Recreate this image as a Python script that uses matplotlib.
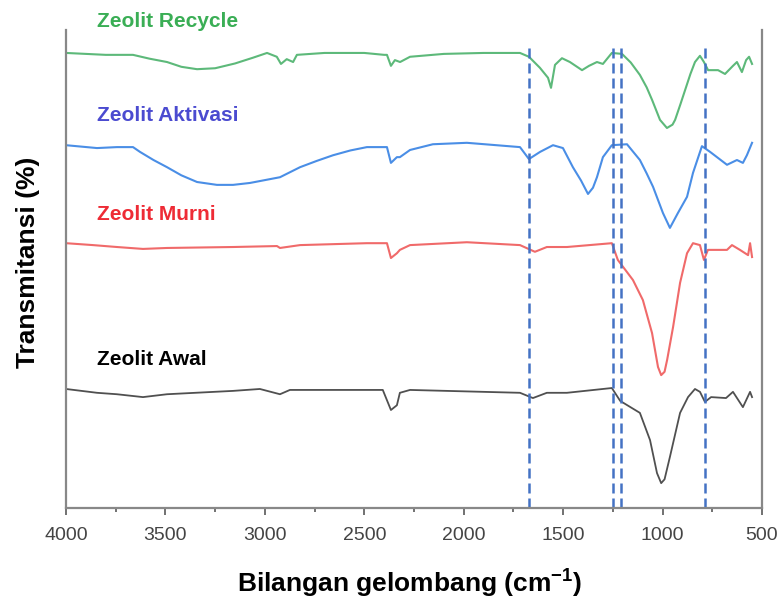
import matplotlib.pyplot as plt
from matplotlib.ticker import MultipleLocator

plt.rcParams['font.family'] = ['Liberation Sans', 'DejaVu Sans']
plt.rcParams['mathtext.fontset'] = 'custom'
plt.rcParams['mathtext.rm'] = 'Liberation Sans:bold'
plt.rcParams['mathtext.bf'] = 'Liberation Sans:bold'

# Spectra: wavenumber (cm-1) and transmittance (arbitrary, stacked)
w_recycle = [4000, 3900, 3800, 3663, 3580, 3492, 3420, 3341, 3250, 3150, 3060, 2989, 2940, 2919, 2890,
             2858, 2839, 2700, 2500, 2400, 2386, 2366, 2346, 2320, 2270, 2100, 1900, 1717, 1672, 1617,
             1576, 1561, 1541, 1506, 1466, 1405, 1370, 1330, 1300, 1255, 1204, 1160, 1114, 1080, 1053,
             1013, 978, 950, 937, 910, 887, 860, 837, 812, 792, 771, 721, 686, 646, 626, 601, 580, 565, 550]
t_recycle = [95.2, 95.0, 94.8, 94.8, 94.0, 93.3, 92.3, 91.8, 92.0, 93.0, 94.2, 95.2, 94.4, 92.9, 93.9,
             93.3, 94.8, 95.2, 95.2, 94.8, 94.8, 92.5, 93.7, 93.3, 94.4, 95.0, 95.2, 95.2, 94.4, 92.1,
             90.0, 87.9, 92.7, 94.1, 93.3, 91.6, 92.5, 93.3, 92.9, 95.2, 95.0, 93.2, 90.6, 88.0, 85.4,
             81.2, 79.5, 80.2, 81.2, 84.5, 87.4, 90.8, 93.3, 94.6, 93.3, 91.6, 91.6, 90.8, 92.5, 93.3, 91.2, 93.7, 94.4, 92.9]

w_aktivasi = [4000, 3844, 3744, 3663, 3628, 3560, 3492, 3420, 3341, 3241, 3160, 3075, 2924, 2823, 2740,
              2657, 2570, 2487, 2386, 2366, 2336, 2321, 2270, 2155, 1984, 1717, 1672, 1616, 1551, 1501,
              1451, 1410, 1375, 1350, 1330, 1300, 1255, 1179, 1114, 1080, 1048, 998, 963, 923, 877,
              847, 802, 761, 676, 626, 596, 576, 550]
t_aktivasi = [75.9, 75.3, 75.5, 75.5, 74.5, 72.8, 71.3, 69.6, 68.2, 67.6, 67.6, 68.0, 69.2, 71.3, 72.6,
              73.8, 74.8, 75.5, 75.5, 72.2, 73.4, 73.4, 74.9, 76.1, 76.4, 75.5, 73.0, 74.5, 75.9, 75.3,
              71.3, 68.5, 65.7, 67.0, 69.2, 73.4, 75.9, 76.1, 72.8, 70.0, 67.2, 61.7, 58.6, 61.7, 65.1,
              70.1, 75.7, 74.5, 71.8, 72.8, 72.2, 73.8, 76.4]

w_murni = [4000, 3864, 3744, 3613, 3492, 3160, 2939, 2924, 2823, 2487, 2386, 2366, 2336, 2321, 2270,
           1984, 1717, 1642, 1582, 1481, 1255, 1225, 1149, 1099, 1053, 1023, 1007, 990, 977, 947, 912,
           877, 847, 812, 792, 772, 676, 651, 611, 570, 560, 550]
t_murni = [55.4, 55.0, 54.6, 54.2, 54.4, 54.6, 54.8, 54.4, 55.0, 55.4, 55.4, 52.3, 53.3, 54.0, 55.0,
           55.6, 55.0, 53.6, 54.6, 54.6, 55.4, 51.9, 47.7, 43.5, 36.6, 29.5, 27.8, 28.5, 31.0, 37.9, 47.1,
           53.3, 55.4, 55.0, 51.9, 54.0, 54.0, 55.0, 54.0, 52.9, 55.4, 52.5]

w_awal = [4000, 3844, 3744, 3613, 3492, 3160, 3025, 2924, 2874, 2407, 2366, 2336, 2321, 2270, 1717,
          1652, 1582, 1481, 1255, 1213, 1114, 1063, 1028, 1007, 990, 963, 912, 872, 837, 812, 787,
          756, 681, 646, 596, 560, 550]
t_awal = [24.9, 24.1, 23.8, 23.2, 23.8, 24.5, 24.9, 23.8, 24.7, 24.7, 20.5, 21.5, 24.1, 24.7, 24.1,
          23.0, 24.1, 24.1, 25.1, 22.4, 19.9, 14.2, 7.3, 5.2, 6.0, 10.7, 19.9, 23.2, 24.9, 24.3, 22.2,
          23.2, 23.0, 24.3, 21.1, 24.3, 23.2]

peaks = [1672, 1251, 1211, 788]

fig = plt.figure(figsize=(7.79, 5.99), dpi=100)
ax = fig.add_axes([66/779, 1-508/599, 696/779, 478/599])

ax.plot(w_recycle, t_recycle, color='#5db97a', lw=1.5)
ax.plot(w_aktivasi, t_aktivasi, color='#4a8ee6', lw=1.5)
ax.plot(w_murni, t_murni, color='#f06a6a', lw=1.5)
ax.plot(w_awal, t_awal, color='#505050', lw=1.3)

for p in peaks:
    ax.vlines(p, 0, 96.2, colors='#4472c4', lw=1.8, linestyles=(0, (4, 2)))

# sample labels
ax.text(3844, 101.7, 'Zeolit Recycle', color='#3aae55', fontsize=15, fontweight='bold', va='center', clip_on=False)
ax.text(3844, 82.2, 'Zeolit Aktivasi', color='#4b4bd0', fontsize=15, fontweight='bold', va='center')
ax.text(3844, 61.3, 'Zeolit Murni', color='#ee2b35', fontsize=15, fontweight='bold', va='center')
ax.text(3844, 31.0, 'Zeolit Awal', color='black', fontsize=15, fontweight='bold', va='center')

ax.set_xlim(4000, 500)
ax.set_ylim(0, 100)
ax.xaxis.set_major_locator(MultipleLocator(500))
ax.xaxis.set_minor_locator(MultipleLocator(250))
ax.set_yticks([])
ax.spines['top'].set_visible(False)
for s in ['left', 'right', 'bottom']:
    ax.spines[s].set_color('#888888')
    ax.spines[s].set_linewidth(1.6)
ax.tick_params(axis='x', which='major', length=5, width=1.3, color='#666666', labelsize=14,
               labelcolor='#444444', pad=9)
ax.tick_params(axis='x', which='minor', length=3, width=1.3, color='#666666')

fig.text(410/779, 1-583/599, 'Bilangan gelombang (cm$^{-1}$)', fontsize=19, fontweight='bold',
         ha='center', va='center')
fig.text(28/779, 1-262/599, 'Transmitansi (%)', fontsize=19, fontweight='bold',
         ha='center', va='center', rotation=90)

plt.savefig('out.png')
